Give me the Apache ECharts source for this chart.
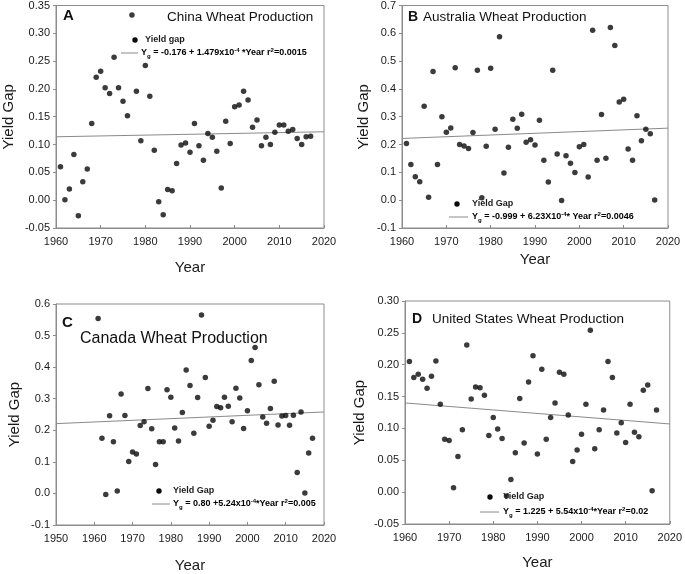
<!DOCTYPE html>
<html>
<head>
<meta charset="utf-8">
<script src="https://cdn.jsdelivr.net/npm/echarts@6/dist/echarts.min.js"></script>
<style>html,body{margin:0;padding:0;background:#fff;}#c{width:685px;height:574px;}</style>
</head>
<body>
<div id="c"></div>
<script>
const years = [1961,1962,1963,1964,1965,1966,1967,1968,1969,1970,
  1971,1972,1973,1974,1975,1976,1977,1978,1979,1980,
  1981,1982,1983,1984,1985,1986,1987,1988,1989,1990,
  1991,1992,1993,1994,1995,1996,1997,1998,1999,2000,
  2001,2002,2003,2004,2005,2006,2007,2008,2009,2010,
  2011,2012,2013,2014,2015,2016,2017];

const chinaGap = [0.060,0.001,0.020,0.082,-0.028,0.033,0.056,0.138,0.221,0.232,
  0.202,0.192,0.257,0.202,0.178,0.152,0.333,0.196,0.107,0.242,
  0.187,0.090,-0.003,-0.026,0.019,0.017,0.066,0.099,0.103,0.086,
  0.138,0.098,0.072,0.120,0.113,0.088,0.022,0.142,0.102,0.168,
  0.171,0.196,0.180,0.131,0.144,0.098,0.113,0.100,0.122,0.135,
  0.135,0.124,0.127,0.111,0.100,0.114,0.115];

const australiaGap = [0.204,0.128,0.084,0.066,0.338,0.011,0.463,0.128,0.300,0.244,
  0.260,0.476,0.200,0.195,0.186,0.243,0.467,0.009,0.194,0.474,
  0.255,0.588,0.098,0.190,0.291,0.259,0.309,0.208,0.217,0.198,
  0.287,0.144,0.065,0.467,0.166,-0.001,0.160,0.133,0.100,0.192,
  0.200,0.083,0.611,0.144,0.308,0.151,0.621,0.556,0.353,0.363,
  0.184,0.144,0.304,0.214,0.255,0.239,0.001];

const canadaGap = [0.554,0.175,-0.003,0.246,0.164,0.008,0.315,0.247,0.101,0.131,
  0.125,0.215,0.227,0.332,0.205,0.092,0.164,0.164,0.328,0.305,
  0.207,0.166,0.256,0.391,0.342,0.191,0.304,0.565,0.367,0.213,
  0.232,0.275,0.271,0.305,0.276,0.227,0.333,0.302,0.206,0.262,
  0.421,0.462,0.344,0.242,0.222,0.269,0.355,0.217,0.245,0.247,
  0.216,0.248,0.066,0.258,0.001,0.128,0.175];

const usGap = [0.205,0.180,0.185,0.177,0.163,0.182,0.206,0.138,0.083,0.081,
  0.007,0.056,0.098,0.231,0.146,0.165,0.164,0.152,0.089,0.117,
  0.099,0.084,-0.006,0.020,0.062,0.147,0.077,0.173,0.214,0.060,
  0.193,0.083,0.117,0.140,0.188,0.185,0.121,0.048,0.066,0.091,
  0.138,0.254,0.068,0.098,0.129,0.205,0.180,0.093,0.109,0.078,
  0.138,0.094,0.087,0.160,0.168,0.002,0.129];

// fitted trend lines, end points
const trendYearsAB = [1960, 2020];
const trendYearsC = [1950, 2020];
const trendYearsD = [1960, 2020];
const chinaTrend = [0.114, 0.123];
const australiaTrend = [0.222, 0.259];
const canadaTrend = [0.221, 0.258];
const usTrend = [0.140, 0.107];

const panelTitles = ['China Wheat Production','Australia Wheat Production','Canada Wheat Production','United States Wheat Production'];
const panelLetters = ['A','B','C','D'];
const legendLabels = ['Yield gap','Yield Gap','Yield Gap','Yield Gap'];

const FONT = 'Liberation Sans, Arial, sans-serif';
const TXT = '#1a1a1a';

const pairs = (xs, ys) => xs.map((x, i) => [x, ys[i]]);

const grids = [
  {left:56, top:5, width:268, height:223},
  {left:402, top:5, width:266, height:223},
  {left:56, top:304, width:268, height:223},
  {left:405, top:301, width:268, height:223}
];

const xCfg = [
  {min:1960, max:2020, interval:10, gap:32},
  {min:1960, max:2020, interval:10, gap:24},
  {min:1950, max:2020, interval:10, gap:33},
  {min:1960, max:2020, interval:10, gap:31}
];
const yCfg = [
  {min:-0.05, max:0.35, interval:0.05, dec:2, gap:40},
  {min:-0.1, max:0.7, interval:0.1, dec:1, gap:31},
  {min:-0.1, max:0.6, interval:0.1, dec:1, gap:34},
  {min:-0.05, max:0.30, interval:0.05, dec:2, gap:38}
];

const xAxes = xCfg.map((c, i) => ({
  type:'value', gridIndex:i, min:c.min, max:c.max, interval:c.interval,
  name:'Year', nameLocation:'middle', nameGap:c.gap,
  nameTextStyle:{fontSize:15, color:TXT, fontFamily:FONT},
  axisLine:{show:true, onZero:false, lineStyle:{color:'#8c8c8c', width:1}},
  axisTick:{show:true, inside:true, length:3, lineStyle:{color:'#8c8c8c'}},
  axisLabel:{fontSize:11, color:TXT, fontFamily:FONT, margin:8, formatter: v => String(v)},
  splitLine:{show:false}
}));

const yAxes = yCfg.map((c, i) => ({
  type:'value', gridIndex:i, min:c.min, max:c.max, interval:c.interval,
  name:'Yield Gap', nameLocation:'middle', nameGap:c.gap, nameRotate:90,
  nameTextStyle:{fontSize:15, color:TXT, fontFamily:FONT},
  axisLine:{show:true, onZero:false, lineStyle:{color:'#8c8c8c', width:1}},
  axisTick:{show:true, inside:false, length:3, lineStyle:{color:'#8c8c8c'}},
  axisLabel:{fontSize:11, color:TXT, fontFamily:FONT, margin:6,
    formatter: v => Number(v).toFixed(c.dec)},
  splitLine:{show:false}
}));

const scatterSets = [chinaGap, australiaGap, canadaGap, usGap];
const trendSets = [
  pairs(trendYearsAB, chinaTrend),
  pairs(trendYearsAB, australiaTrend),
  pairs(trendYearsC, canadaTrend),
  pairs(trendYearsD, usTrend)
];

const series = [];
scatterSets.forEach((vals, i) => {
  series.push({
    type:'line', xAxisIndex:i, yAxisIndex:i, data:trendSets[i],
    symbol:'none', lineStyle:{color:'#8a8a8a', width:1}, z:1, silent:true
  });
  series.push({
    type:'scatter', xAxisIndex:i, yAxisIndex:i, data:pairs(years, vals),
    symbolSize:5.5, itemStyle:{color:'#0a0a0a'}, z:3
  });
});

const eqRich = {
  n:{fontSize:9, fontFamily:FONT, color:TXT, fontWeight:'bold', lineHeight:12},
  sub:{fontSize:6, fontFamily:FONT, color:TXT, fontWeight:'bold', verticalAlign:'bottom', lineHeight:6},
  sup:{fontSize:6, fontFamily:FONT, color:TXT, fontWeight:'bold', verticalAlign:'top', lineHeight:6}
};
const equations = [
  ['-0.176 + 1.479x10', ' *Year r', '=0.0015'],
  ['-0.999 + 6.23X10', '* Year r', '=0.0046'],
  ['0.80 +5.24x10', '*Year r', '=0.005'],
  ['1.225 + 5.54x10', '*Year r', '=0.02']
];
const legendPos = [
  {dx:135, dy:40, lx1:121, lx2:138, ly:53, tx:145, ex:141},
  {dx:457, dy:204, lx1:449, lx2:468, ly:217, tx:472, ex:472},
  {dx:159, dy:491, lx1:152, lx2:170, ly:504, tx:173, ex:173},
  {dx:490, dy:497, lx1:480, lx2:499, ly:512, tx:503, ex:503}
];

const graphics = [];
legendPos.forEach((p, i) => {
  const e = equations[i];
  graphics.push({type:'circle', shape:{cx:p.dx, cy:p.dy, r:2.7}, style:{fill:'#0a0a0a'}, z:10});
  graphics.push({type:'text', x:p.tx, y:p.dy, style:{text:legendLabels[i], fontSize:9, fontWeight:'bold', fontFamily:FONT, fill:TXT, verticalAlign:'middle'}, z:10});
  graphics.push({type:'line', shape:{x1:p.lx1, y1:p.ly, x2:p.lx2, y2:p.ly}, style:{stroke:'#8a8a8a', lineWidth:1}, z:10});
  graphics.push({type:'text', x:p.ex, y:p.ly, style:{
    text:'{n|Y}{sub|g}{n| = ' + e[0] + '}{sup|-4}{n|' + e[1] + '}{sup|2}{n|' + e[2] + '}',
    rich:eqRich, verticalAlign:'middle'}, z:10});
});

const titlePos = [
  {lx:63, ly:16, tx:167, ty:17, fs:13.5, lfs:15},
  {lx:408, ly:17, tx:423, ty:17, fs:13.5, lfs:14},
  {lx:62, ly:323, tx:80, ty:339, fs:16, lfs:15},
  {lx:412, ly:319, tx:432, ty:319, fs:13.5, lfs:14}
];
titlePos.forEach((t, i) => {
  graphics.push({type:'text', x:t.lx, y:t.ly, style:{text:panelLetters[i], fontSize:t.lfs, fontWeight:'bold', fontFamily:FONT, fill:'#111', verticalAlign:'middle'}, z:10});
  graphics.push({type:'text', x:t.tx, y:t.ty, style:{text:panelTitles[i], fontSize:t.fs, fontFamily:FONT, fill:'#111', verticalAlign:'middle'}, z:10});
});

const chart = echarts.init(document.getElementById('c'), null, {renderer:'canvas'});
chart.setOption({
  animation:false,
  backgroundColor:'#fff',
  grid: grids.map(g => Object.assign({show:true, borderColor:'#8c8c8c', borderWidth:1, backgroundColor:'transparent'}, g)),
  xAxis: xAxes,
  yAxis: yAxes,
  series: series,
  graphic: graphics
});
</script>
</body>
</html>
